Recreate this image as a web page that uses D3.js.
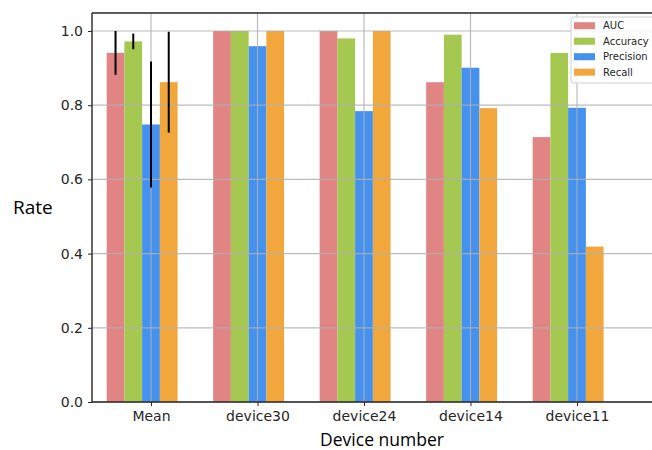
<!DOCTYPE html>
<html><head><meta charset="utf-8">
<script src="https://cdn.jsdelivr.net/npm/d3@7"></script>
<style>body{margin:0;background:#fff}svg{display:block}</style>
</head><body>
<svg id="c" width="652" height="450"></svg>
<script>
const categories = ["Mean","device30","device24","device14","device11"];
const seriesNames = ["AUC","Accuracy","Precision","Recall"];
const seriesColors = ["#e08583","#a5c850","#4491f0","#f1a73c"];
const aucValues = [0.941, 1.0, 1.0, 0.862, 0.714];
const accuracyValues = [0.972, 1.0, 0.980, 0.990, 0.941];
const precisionValues = [0.748, 0.959, 0.784, 0.901, 0.793];
const recallValues = [0.862, 1.0, 1.0, 0.792, 0.419];
const meanErrors = [0.059, 0.021, 0.17, 0.136];
const yTicks = [0, 0.2, 0.4, 0.6, 0.8, 1.0];

const series = [aucValues, accuracyValues, precisionValues, recallValues];
const svg = d3.select("#c");
const L = 92, R = 660, T = 13, B = 402;
const x = d3.scalePoint().domain(categories).range([151, 577]);
const y = d3.scaleLinear().domain([0, 1.0485]).range([B, T]);
const w = x.step() * 0.1665;

// bars
series.forEach((vals, si) => {
  svg.append("g").selectAll("rect").data(categories).join("rect")
    .attr("x", (c) => x(c) + (si - 2) * w - w / 2)
    .attr("width", w)
    .attr("y", (c, i) => y(vals[i]))
    .attr("height", (c, i) => y(0) - y(vals[i]))
    .attr("fill", seriesColors[si]);
});

// grid
const grid = svg.append("g").attr("stroke", "#b0b0b0").attr("stroke-opacity", 0.85).attr("stroke-width", 1.2);
yTicks.forEach(t => grid.append("line").attr("x1", L).attr("x2", R).attr("y1", y(t)).attr("y2", y(t)));
categories.forEach(c => grid.append("line").attr("x1", x(c)).attr("x2", x(c)).attr("y1", T).attr("y2", B));

// error bars (Mean group)
series.forEach((vals, si) => {
  const cx = x(categories[0]) + (si - 2) * w;
  svg.append("line").attr("x1", cx).attr("x2", cx)
    .attr("y1", y(vals[0] + meanErrors[si])).attr("y2", y(vals[0] - meanErrors[si]))
    .attr("stroke", "#000").attr("stroke-width", 2);
});

// axes
const yAxis = d3.axisLeft(y).tickValues(yTicks).tickFormat(d3.format(".1f")).tickSize(4).tickPadding(5);
const gy = svg.append("g").attr("transform", `translate(${L},0)`).call(yAxis);
const xAxis = d3.axisBottom(x).tickSize(4).tickPadding(5);
const gx = svg.append("g").attr("transform", `translate(0,${B})`).call(xAxis);
[gx, gy].forEach(g => {
  g.select(".domain").remove();
  g.selectAll("text").attr("font-family", "DejaVu Sans").attr("font-size", 14).attr("fill", "#262626");
  g.selectAll("line").attr("stroke", "#262626").attr("stroke-width", 1);
});
// spines
const sp = svg.append("g").attr("stroke", "#262626").attr("stroke-width", 1.4).attr("fill", "none");
sp.append("line").attr("x1", L).attr("x2", L).attr("y1", T).attr("y2", B);
sp.append("line").attr("x1", L).attr("x2", R).attr("y1", B).attr("y2", B);
sp.append("line").attr("x1", L).attr("x2", R).attr("y1", T).attr("y2", T);

// axis titles
svg.append("text").attr("x", 13).attr("y", 214).text("Rate")
  .attr("font-family", "Open Sans").attr("font-size", 19).attr("fill", "#000");
svg.append("text").attr("x", 382).attr("y", 446).attr("text-anchor", "middle").text("Device number")
  .attr("font-family", "Open Sans").attr("font-size", 17.5).attr("fill", "#000");

// legend
const lg = svg.append("g");
lg.append("rect").attr("x", 571).attr("y", 17).attr("width", 100).attr("height", 66).attr("rx", 3)
  .attr("fill", "#fff").attr("fill-opacity", 0.85).attr("stroke", "#d0d0d0");
seriesNames.forEach((n, i) => {
  const yy = 25.7 + i * 15.5;
  lg.append("rect").attr("x", 574).attr("y", yy - 3.5).attr("width", 21).attr("height", 7).attr("fill", seriesColors[i]);
  lg.append("text").attr("x", 603).attr("y", yy + 3.5).text(n)
    .attr("font-family", "DejaVu Sans").attr("font-size", 10).attr("fill", "#262626");
});
</script>
</body></html>
